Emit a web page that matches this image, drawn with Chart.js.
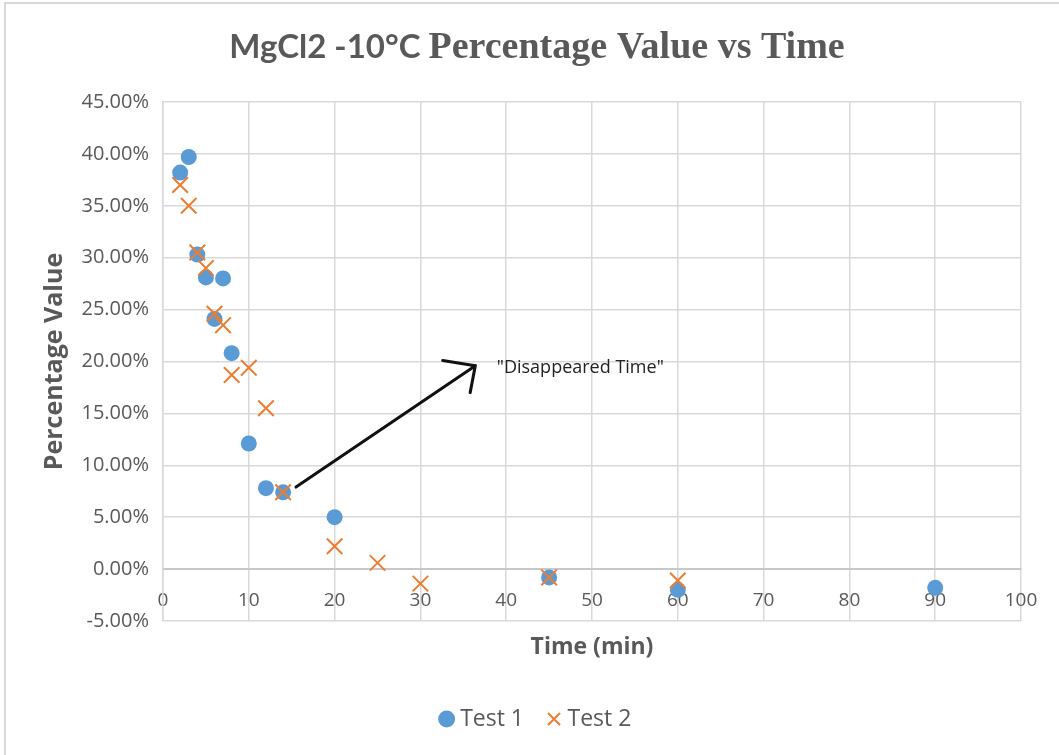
<!DOCTYPE html>
<html>
<head>
<meta charset="utf-8">
<script src="https://cdn.jsdelivr.net/npm/chart.js@4.4.0/dist/chart.umd.min.js"></script>
<style>
  html, body { margin: 0; padding: 0; background: #fff; }
  #wrap { position: relative; width: 1059px; height: 755px; overflow: hidden; }
  #frame { position: absolute; left: 4px; top: 2px; width: 1100px; height: 800px;
           border: 2px solid #d9d9d9; pointer-events: none; }
</style>
</head>
<body>
<div id="wrap">
  <canvas id="chart" width="1059" height="755"></canvas>
  <div id="frame"></div>
</div>
<script>
// --- data (time in min, value in %) ---
const test1Time  = [2, 3, 4, 5, 6, 7, 8, 10, 12, 14, 20, 45, 60, 90];
const test1Value = [38.2, 39.7, 30.3, 28.1, 24.1, 28.0, 20.8, 12.1, 7.8, 7.4, 5.0, -0.8, -2.0, -1.8];

const test2Time  = [2, 3, 4, 5, 6, 7, 8, 10, 12, 14, 20, 25, 30, 45, 60];
const test2Value = [37.0, 35.0, 30.5, 29.0, 24.6, 23.5, 18.7, 19.4, 15.5, 7.4, 2.2, 0.6, -1.4, -0.8, -1.1];

const seriesNames = ["Test 1", "Test 2"];
// title is set in two fonts in the original (sans part + serif part)
const titleSans  = "MgCl2 -10\u00B0C ";
const titleSerif = "Percentage Value vs Time";
const xTitle = "Time (min)";
const yTitle = "Percentage Value";

// hand-drawn arrow + note, in data units
const arrowFrom = [15.5, 7.9];
const arrowTo   = [36.4, 19.6];
const arrowHeadA = [32.6, 20.1];
const arrowHeadB = [35.8, 17.0];
const noteAt = [38.9, 19.4];
const noteText = "\"Disappeared Time\"";

const GREY = "#595959";
const BLUE = "#5b9bd5";
const ORANGE = "#ed7d31";
const GRID = "#d9d9d9";

const toPts = (xs, ys) => xs.map((x, i) => ({ x: x, y: ys[i] }));

// legend sits centred a bit right of the plot, like the original
const nudgeLegend = {
  id: "nudgeLegend",
  afterLayout(chart) {
    const lg = chart.legend;
    const dx = 538 - (lg.left + lg.right) / 2;
    const dy = 710 - (lg.top + lg.bottom) / 2;
    lg.left += dx; lg.right += dx;
    lg.top += dy; lg.bottom += dy;
  }
};

const titleDraw = {
  id: "titleDraw",
  afterDraw(chart) {
    const ctx = chart.ctx;
    ctx.save();
    const fSans = "bold 33px Lato";
    const fSerif = "bold 38px 'Liberation Serif'";
    ctx.font = fSans;
    const w1 = ctx.measureText(titleSans).width;
    ctx.font = fSerif;
    const w2 = ctx.measureText(titleSerif).width;
    let x = 537 - (w1 + w2) / 2;
    const y = 58;
    ctx.fillStyle = GREY;
    ctx.textBaseline = "alphabetic";
    ctx.font = fSans;
    ctx.fillText(titleSans, x, y);
    ctx.font = fSerif;
    ctx.fillText(titleSerif, x + w1, y);
    ctx.restore();
  }
};

// arrow + label
const notePlugin = {
  id: "note",
  afterDatasetsDraw(chart) {
    const { ctx, scales: { x, y } } = chart;
    const px = p => [x.getPixelForValue(p[0]), y.getPixelForValue(p[1])];
    const a = px(arrowFrom), b = px(arrowTo), h1 = px(arrowHeadA), h2 = px(arrowHeadB);
    ctx.save();
    ctx.strokeStyle = "#111";
    ctx.lineWidth = 3;
    ctx.lineCap = "round";
    ctx.beginPath();
    ctx.moveTo(a[0], a[1]);
    ctx.lineTo(b[0], b[1]);
    ctx.moveTo(h1[0], h1[1]);
    ctx.lineTo(b[0], b[1]);
    ctx.lineTo(h2[0], h2[1]);
    ctx.stroke();
    const t = px(noteAt);
    ctx.fillStyle = "#222";
    ctx.font = "18px 'Open Sans'";
    ctx.textBaseline = "middle";
    ctx.fillText(noteText, t[0], t[1]);
    ctx.restore();
  }
};

new Chart(document.getElementById("chart"), {
  type: "scatter",
  data: {
    datasets: [
      {
        label: seriesNames[0],
        data: toPts(test1Time, test1Value),
        pointStyle: "circle",
        pointRadius: 8,
        backgroundColor: BLUE,
        borderColor: BLUE,
        borderWidth: 0,
        order: 1
      },
      {
        label: seriesNames[1],
        data: toPts(test2Time, test2Value),
        pointStyle: "crossRot",
        pointRadius: 11,
        backgroundColor: ORANGE,
        borderColor: ORANGE,
        borderWidth: 2,
        order: 0
      }
    ]
  },
  options: {
    responsive: false,
    animation: false,
    layout: { padding: { left: 0, right: 38, top: 102, bottom: 0 } },
    plugins: {
      title: { display: false },
      legend: {
        position: "bottom",
        labels: {
          usePointStyle: true,
          boxWidth: 4,
          boxHeight: 12,
          padding: 28,
          color: GREY,
          font: { family: "'Open Sans'", size: 23 },
          sort: (a, b) => a.datasetIndex - b.datasetIndex
        }
      },
      tooltip: { enabled: false }
    },
    scales: {
      x: {
        type: "linear",
        position: { y: 0 },
        min: 0, max: 100,
        ticks: { stepSize: 10, color: GREY, padding: 20, font: { family: "'Open Sans'", size: 19 } },
        grid: { color: GRID, lineWidth: 1.5, drawTicks: false },
        border: { color: "#c8c8c8", width: 2 }
      },
      x2: {
        type: "linear",
        position: "bottom",
        min: 0, max: 100,
        ticks: { display: false },
        grid: { display: false, drawTicks: false },
        border: { display: false },
        title: {
          display: true, text: xTitle, color: GREY,
          font: { family: "'Open Sans'", size: 23, weight: "bold", lineHeight: 1.2 },
          padding: { top: 0, bottom: 33 }
        },
        afterFit: s => { s.height = 755 - s.chart.legend.height - 621; }
      },
      y: {
        min: -5, max: 45,
        ticks: {
          stepSize: 5, color: GREY, padding: 14,
          font: { family: "'Open Sans'", size: 20 },
          callback: v => v.toFixed(2) + "%"
        },
        grid: { color: GRID, lineWidth: 1.5, drawTicks: false },
        border: { color: GRID, width: 1.5 },
        title: {
          display: true, text: yTitle, color: GREY,
          font: { family: "'Open Sans'", size: 25, weight: "bold", lineHeight: 1.2 },
          padding: { top: 40, bottom: 0 }
        },
        afterFit: s => { s.width = 163; }
      }
    }
  },
  plugins: [notePlugin, titleDraw, nudgeLegend]
});
</script>
</body>
</html>
